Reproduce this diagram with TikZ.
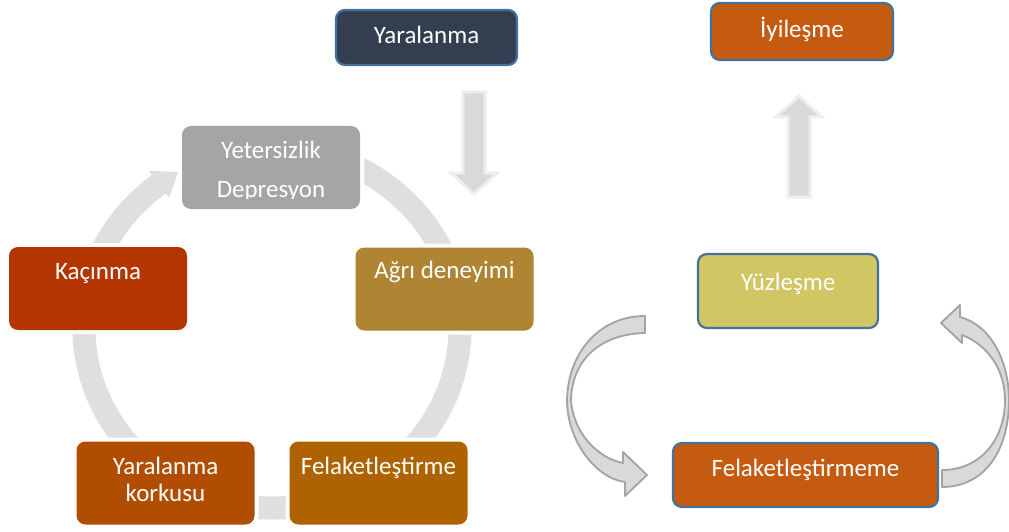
\documentclass[tikz,border=0pt]{standalone}
\usepackage{fontspec}
\setmainfont{Carlito}
\definecolor{navy}{HTML}{333F50}
\definecolor{bblue}{HTML}{41719C}
\definecolor{rust}{HTML}{C55A11}
\definecolor{olive}{HTML}{D0C664}
\definecolor{gry}{HTML}{A5A5A5}
\definecolor{kac}{HTML}{B33600}
\definecolor{agr}{HTML}{AF8433}
\definecolor{fel}{HTML}{AE6300}
\definecolor{kor}{HTML}{B04D00}
\definecolor{ringc}{HTML}{DFDFDF}
\definecolor{afill}{HTML}{D9D9D9}
\definecolor{aedge}{HTML}{EEEEEE}
\definecolor{cedge}{HTML}{A3A3A3}
\tikzset{
  box/.style={rectangle, rounded corners=9pt, inner sep=0pt},
  bluebox/.style={box, draw=bblue, line width=2.2pt},
  cycbox/.style={box, minimum width=178pt, minimum height=83pt, preaction={draw=white, line width=8pt}},
  lbl/.style={text=white, font=\fontsize{25}{30}\selectfont, inner sep=0pt, anchor=base},
  blockarrow/.style={fill=afill, draw=aedge, line width=3pt},
  curvarrow/.style={fill=afill, draw=cedge, line width=1.8pt, line join=round},
  ringband/.style={draw=ringc, line width=23pt},
}
\begin{document}
\begin{tikzpicture}[x=1pt,y=-1pt]
\useasboundingbox (0,0) rectangle (1009,532);
\fill[white] (0,0) rectangle (1009,532);
% cycle ring
\draw[ringband] ({272+188*cos(-80)},{328+180*sin(-80)}) arc[start angle=-80, end angle=233.5, x radius=188, y radius=180];
\fill[ringc] ({272+205*cos(233)},{328+197*sin(233)}) -- ({272+188*cos(240)},{328+180*sin(240)}) -- ({272+171*cos(233)},{328+163*sin(233)}) -- cycle;
% cycle boxes
\node[cycbox, fill=gry] (yeter) at (271,167.5) {};
\node[cycbox, fill=kac] (kacinma) at (98,288.5) {};
\node[cycbox, fill=agr] (agri) at (444.5,289) {};
\node[cycbox, fill=fel] (felak) at (378.5,483) {};
\node[cycbox, fill=kor] (korku) at (165.5,483) {};
% right boxes
\node[bluebox, fill=navy, minimum width=181pt, minimum height=55pt] (yaralanma) at (426.5,37.5) {};
\node[bluebox, fill=rust, minimum width=182pt, minimum height=57pt] (iyilesme) at (802,31.5) {};
\node[bluebox, fill=olive, minimum width=180pt, minimum height=74pt] (yuzlesme) at (788,291) {};
\node[bluebox, fill=rust, minimum width=265pt, minimum height=64pt] (felak2) at (805.5,475) {};
% labels
\node[lbl] (tyara) at (426.5,44) {Yaralanma};
\node[lbl] (tiyi) at (802,38) {İyileşme};
\node[lbl] (tyuz) at (788,290) {Yüzleşme};
\node[lbl] (tfel2) at (805.5,476) {Felaketleştirmeme};
\node[lbl] (tyet1) at (271,158) {Yetersizlik};
\begin{scope}
  \clip (182,126) rectangle (360,198.5);
  \node[lbl] (tyet2) at (271,197) {Depresyon};
\end{scope}
\node[lbl] (tkac) at (98,279) {Kaçınma};
\node[lbl] (tagr) at (444.5,278) {Ağrı deneyimi};
\node[lbl] (tfel) at (378.5,474) {Felaketleştirme};
\node[lbl] (tkor1) at (165.5,474) {Yaralanma};
\node[lbl] (tkor2) at (165.5,501) {korkusu};
% straight block arrows
\draw[blockarrow] (463,92) -- (485,92) -- (485,173) -- (497,173) -- (474,194) -- (451,173) -- (463,173) -- cycle;
\draw[blockarrow] (788,197) -- (810,197) -- (810,117) -- (822,117) -- (799,96) -- (776,117) -- (788,117) -- cycle;
% curved arrows
\draw[curvarrow] (645,316) .. controls (600,316) and (568,352) .. (567,400)
  .. controls (567,440) and (595,478) .. (625,482)
  -- (625,496) -- (647,475) -- (623,452) -- (623,463)
  .. controls (597,458) and (573,432) .. (571,400)
  .. controls (572,360) and (600,334) .. (645,333) -- cycle;
\draw[curvarrow] (942,487) .. controls (985,487) and (1009,450) .. (1009,400)
  .. controls (1009,360) and (990,325) .. (960,317)
  -- (960,305) -- (941,323) -- (962,343) -- (962,335)
  .. controls (988,345) and (1005,370) .. (1005,400)
  .. controls (1005,440) and (980,470) .. (942,470) -- cycle;
\end{tikzpicture}
\end{document}
